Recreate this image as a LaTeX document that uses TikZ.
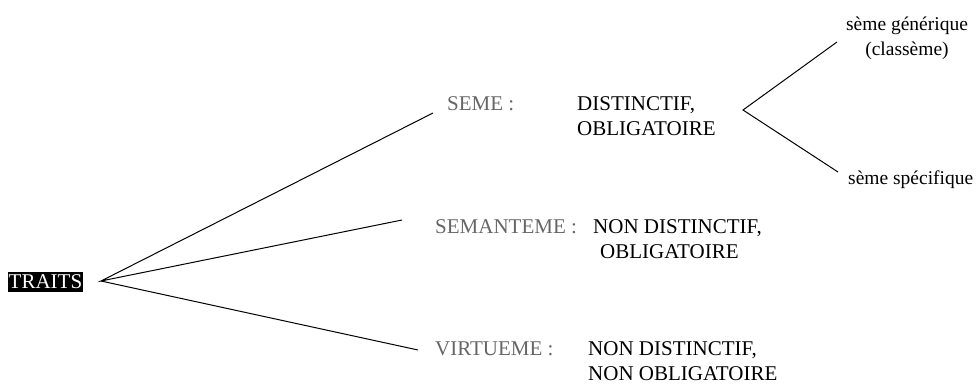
\documentclass[tikz,border=0pt]{standalone}
\usepackage{fontspec}
\setmainfont{Liberation Serif}
\begin{document}
\begin{tikzpicture}[x=1pt,y=-1pt,
  lbl/.style={inner sep=0pt,anchor=base west,text=black!60,font=\fontsize{21}{25}\selectfont},
  desc/.style={inner sep=0pt,anchor=base west,align=left,text=black,font=\fontsize{21}{25}\selectfont},
  small/.style={inner sep=0pt,anchor=base,align=center,text=black,font=\fontsize{19.5}{25}\selectfont},
  conn/.style={draw=black,line width=1pt}]
\useasboundingbox (0,0) rectangle (977,383);
% root
\node[fill=black,text=white,inner sep=1pt,minimum width=75pt,minimum height=20pt,
  font=\fontsize{21}{25}\selectfont] (traits) at (45.5,282) {TRAITS};
\coordinate (fork) at (101,281);
% labels (multi-line nodes: base = baseline of last line)
\node[lbl] (seme) at (447,110) {SEME :};
\node[desc] (semedesc) at (577,135) {DISTINCTIF,\\OBLIGATOIRE};
\node[lbl] (semanteme) at (435,233) {SEMANTEME :};
\node[desc] (semantemedesc) at (593,258) {NON DISTINCTIF,\\\hspace*{7pt}OBLIGATOIRE};
\node[lbl] (virtueme) at (435,355) {VIRTUEME :};
\node[desc] (virtuemedesc) at (588,380) {NON DISTINCTIF,\\NON OBLIGATOIRE};
\node[small] (generique) at (907,55) {sème générique\\(classème)};
\node[small,anchor=base west] (specifique) at (848,184) {sème spécifique};
% connector ends
\coordinate (e1) at (433,113);
\coordinate (e2) at (402,220);
\coordinate (e3) at (418,350);
\coordinate (fork2) at (743,110);
\coordinate (g1) at (837,42);
\coordinate (g2) at (838,172);
% connectors
\draw[conn] (e1) -- (fork) -- (e2);
\draw[conn] (fork) -- (e3);
\draw[conn] (g1) -- (fork2) -- (g2);
\end{tikzpicture}
\end{document}
